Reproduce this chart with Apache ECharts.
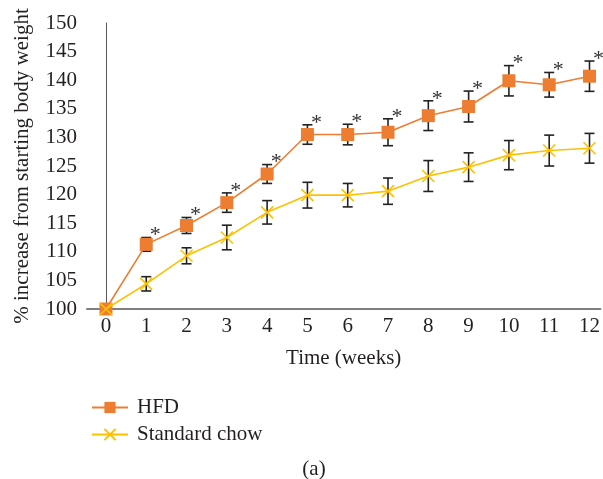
<!DOCTYPE html>
<html><head><meta charset="utf-8">
<script src="https://cdn.jsdelivr.net/npm/echarts@6/dist/echarts.min.js"></script>
<style>html,body{margin:0;padding:0;background:#fff}#c{width:603px;height:479px}</style>
</head><body><div id="c"></div>
<script>
var weeks = [0,1,2,3,4,5,6,7,8,9,10,11,12];
var hfdMean = [100, 111.3, 114.6, 118.6, 123.6, 130.5, 130.5, 130.9, 133.8, 135.4, 139.9, 139.2, 140.7];
var hfdErr = [0.7, 1.2, 1.4, 1.7, 1.65, 1.7, 1.8, 2.35, 2.6, 2.7, 2.65, 2.15, 2.65];
var chowMean = [100, 104.4, 109.3, 112.5, 116.9, 119.9, 119.9, 120.6, 123.25, 124.8, 126.9, 127.7, 128.1];
var chowErr = [0.5, 1.25, 1.4, 2.15, 2.05, 2.25, 2.05, 2.3, 2.7, 2.5, 2.55, 2.7, 2.6];
var hfdSig = [false,true,true,true,true,true,true,true,true,true,true,true,true];
var yTicks = [100,105,110,115,120,125,130,135,140,145,150];

var FONT = '"Liberation Serif","DejaVu Serif",serif';
var TXT = '#231f20';
var ORANGE = '#ED7D31', GOLD = '#FFC000';
var FS = 21;

function pairs(m){ return weeks.map(function(w,i){return [w,m[i]];}); }
function errData(m,e,s){ return weeks.map(function(w,i){return [w,m[i]-e[i],m[i]+e[i], s?(s[i]?1:0):0];}); }

function errRender(params, api){
  var x = api.value(0), lo = api.value(1), hi = api.value(2), sig = api.value(3);
  var pLo = api.coord([x,lo]), pHi = api.coord([x,hi]);
  var cw = 5;
  var st = {stroke:'#222', lineWidth:1.6};
  var ch = [
    {type:'line', shape:{x1:pLo[0],y1:pLo[1],x2:pHi[0],y2:pHi[1]}, style:st},
    {type:'line', shape:{x1:pLo[0]-cw,y1:pLo[1],x2:pLo[0]+cw,y2:pLo[1]}, style:st},
    {type:'line', shape:{x1:pHi[0]-cw,y1:pHi[1],x2:pHi[0]+cw,y2:pHi[1]}, style:st}
  ];
  if (sig) {
    ch.push({type:'text', x:pHi[0]+9, y:pHi[1]-2, style:{text:'*', fill:'#333', font:'22px '+FONT, align:'center', verticalAlign:'middle'}});
  }
  return {type:'group', children:ch};
}

var chart = echarts.init(document.getElementById('c'));
chart.setOption({
  animation:false,
  textStyle:{fontFamily:FONT, color:TXT},
  title:{text:'(a)', left:309, top:454, textAlign:'center', textStyle:{fontFamily:FONT, fontSize:FS, fontWeight:'normal', color:TXT}},
  legend:{orient:'vertical', left:86, top:392, itemWidth:36, itemHeight:14, itemGap:6,
    textStyle:{fontFamily:FONT, fontSize:FS, color:TXT, padding:[0,0,0,4]},
    data:['HFD','Standard chow']},
  grid:{left:87, right:0, top:23, bottom:170},
  xAxis:{type:'value', min:-0.47, max:12.27,
    name:'Time (weeks)', nameLocation:'middle', nameGap:39,
    nameTextStyle:{fontFamily:FONT, fontSize:FS, color:TXT},
    axisLine:{show:true, lineStyle:{color:'#7f7f7f', width:2}},
    axisTick:{show:false},
    splitLine:{show:false},
    axisLabel:{customValues:weeks, fontFamily:FONT, fontSize:FS, color:TXT, margin:7}},
  yAxis:{type:'value', min:100, max:150, interval:5,
    name:'% increase from starting body weight', nameLocation:'middle', nameGap:54,
    nameTextStyle:{fontFamily:FONT, fontSize:FS, color:TXT},
    axisLine:{show:true, lineStyle:{color:'#595959', width:1}},
    axisTick:{show:false},
    splitLine:{show:false},
    axisLabel:{customValues:yTicks, fontFamily:FONT, fontSize:FS, color:TXT, margin:10}},
  series:[
    {type:'custom', name:'errChow', renderItem:errRender, data:errData(chowMean,chowErr,null), z:1, silent:true},
    {type:'custom', name:'errHfd', renderItem:errRender, data:errData(hfdMean,hfdErr,hfdSig), z:1, silent:true},
    {type:'line', name:'Standard chow', data:pairs(chowMean), symbol:'path://M0,0L10,10M10,0L0,10', symbolSize:12,
      lineStyle:{color:GOLD, width:1.6}, itemStyle:{color:GOLD, borderColor:GOLD, borderWidth:1.6}, z:3},
    {type:'line', name:'HFD', data:pairs(hfdMean), symbol:'rect', symbolSize:13,
      lineStyle:{color:ORANGE, width:1.6}, itemStyle:{color:ORANGE}, z:2}
  ]
});
</script></body></html>
